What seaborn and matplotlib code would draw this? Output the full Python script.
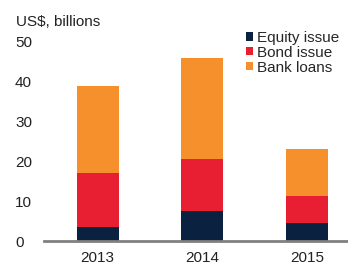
import matplotlib
matplotlib.use("Agg")
import matplotlib.pyplot as plt
import seaborn as sns
import pandas as pd

years = ["2013", "2014", "2015"]
equity = [3.6, 7.6, 4.6]
bond = [13.4, 13.0, 6.7]
bank = [21.8, 25.4, 11.8]
series_names = ["Equity issue", "Bond issue", "Bank loans"]
colors = ["#0A2240", "#E81E32", "#F6902D"]
yticks = [0, 10, 20, 30, 40, 50]

sns.set_theme(style="white")
plt.rcParams['font.family'] = ['Liberation Sans', 'DejaVu Sans']

FS = 11

df = pd.DataFrame({"year": years, "Equity issue": equity,
                   "Bond issue": bond, "Bank loans": bank})

fig = plt.figure(figsize=(3.48, 2.65), dpi=100)
ax = fig.add_axes([0.127, 0.09, 0.873, 0.76])

bottom = [0.0] * len(years)
cum = []
for name in series_names:
    top = [b + v for b, v in zip(bottom, df[name])]
    cum.append(top)
    bottom = top

for name, color, tops in reversed(list(zip(series_names, colors, cum))):
    sns.barplot(x=df["year"], y=tops, color=color, width=0.4, ax=ax,
                saturation=1, label=name, edgecolor="none")

ax.set_xlim(-0.51, 2.39)
ax.set_ylim(0, 50.5)
ax.set_yticks(yticks)
ax.set_yticklabels([str(t) for t in yticks], fontsize=FS, color="#222222")
for lab in ax.get_yticklabels():
    lab.set_horizontalalignment("left")
ax.tick_params(axis="y", length=0, pad=21)
ax.tick_params(axis="x", length=0, pad=7, labelsize=FS, colors="#222222")
ax.set_xlabel("")
ax.set_ylabel("")
for s in ["top", "right", "left"]:
    ax.spines[s].set_visible(False)
ax.spines["bottom"].set_color("#808080")
ax.spines["bottom"].set_linewidth(2)

fig.text(16 / 348, 1 - 22 / 265, "US$, billions", fontsize=FS, color="#222222",
         ha="left", va="center")

handles, labels = ax.get_legend_handles_labels()
order = [labels.index(n) for n in series_names]
ax.legend([handles[i] for i in order], [labels[i] for i in order],
          loc="upper left", bbox_to_anchor=(246 / 348, 1 - 31 / 265),
          bbox_transform=fig.transFigure, frameon=False,
          fontsize=FS, handlelength=0.45, handleheight=0.45, handletextpad=0.3,
          labelspacing=0.05, borderaxespad=0, borderpad=0)

fig.savefig("out.png", dpi=100)
